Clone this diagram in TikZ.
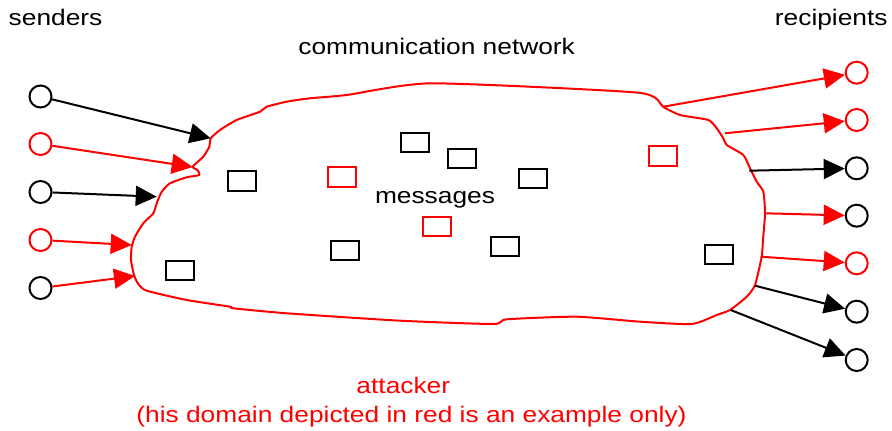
\documentclass[tikz,border=0pt]{standalone}
\usepackage{fontspec}
\setmainfont[FakeStretch=1.17]{Liberation Sans}
\usetikzlibrary{arrows.meta}
\begin{document}
\begin{tikzpicture}[x=0.5pt,y=-0.5pt,
  lbl/.style={inner sep=0pt,font=\fontsize{11.25}{13}\selectfont},
  party/.style={circle,draw,line width=1pt,minimum size=11pt,inner sep=0pt},
  msg/.style={rectangle,draw,line width=1pt,minimum width=14pt,minimum height=9.75pt,inner sep=0pt},
  arr/.style={line width=1pt,-{Triangle[length=10.5pt,width=10pt]}},
  cloudline/.style={draw=red,line width=1pt,line join=round}]
\useasboundingbox (0,0) rectangle (892,431);
% texts
\node[lbl,anchor=base west] (tsend) at (8.3,26) {senders};
\node[lbl,anchor=base east] (trec) at (888,26) {recipients};
\node[lbl,anchor=base] (tnet) at (436.7,55) {communication network};
\node[lbl,anchor=base] (tmsg) at (435,203.3) {messages};
\node[lbl,anchor=base,text=red] (tatt) at (403.3,393.3) {attacker};
\node[lbl,anchor=base,text=red] (tdom) at (411.5,423) {(his domain depicted in red is an example only)};
% cloud
\draw[cloudline] plot[smooth cycle,tension=0.35] coordinates {
(210.7,138.3) (220,130) (236.7,120) (260,111.7) (266.7,106.7) (286.7,101.7) (310,98.3) (346.7,95)
(431.7,83.3) (638.3,92.7) (663.3,107) (680,115) (708.3,120) (716.7,128.3) (723.3,138.3) (726.7,145)
(743.3,155) (750,168.3) (756.7,181.7) (763.3,191.7) (765,213.3) (763,240) (761.7,256.7) (755,285)
(746.7,296.7) (730,310) (716.7,315) (691.7,324) (640,321.7) (576.7,316.7) (506.7,319.3) (493.3,324)
(400,320.7) (286.7,313.3) (233.3,308.3) (230,306.7) (186.7,300) (146.7,290.7) (138.3,284) (134,275)
(131,260) (131.7,246.7) (135,236.7) (143.3,223.3) (153.3,213.3) (156.7,203.3) (161.7,191.7) (170,183.3)
(186.7,177.3) (199.3,175) (197.3,170) (192.7,166.7) (203.3,156.7) (209.3,146.7)};
% messages
\node[msg] (m1) at (242,181) {};
\node[msg,draw=red] (m2) at (342.3,177) {};
\node[msg] (m3) at (414.7,142.5) {};
\node[msg] (m4) at (462,158.5) {};
\node[msg] (m5) at (532.7,178.5) {};
\node[msg,draw=red] (m6) at (436.7,226.5) {};
\node[msg] (m7) at (345,250.5) {};
\node[msg] (m8) at (179.7,270.5) {};
\node[msg] (m9) at (504.7,246.5) {};
\node[msg,draw=red] (m10) at (663.3,155.8) {};
\node[msg] (m11) at (719.3,254.5) {};
% senders
\node[party] (s1) at (40.5,96.5) {};
\node[party,draw=red] (s2) at (40.5,144) {};
\node[party] (s3) at (40.5,192) {};
\node[party,draw=red] (s4) at (40.5,240) {};
\node[party] (s5) at (40.5,288) {};
% recipients
\node[party,draw=red] (r1) at (856.7,72.7) {};
\node[party,draw=red] (r2) at (856.7,120) {};
\node[party] (r3) at (856.7,168.3) {};
\node[party] (r4) at (856.7,215.7) {};
\node[party,draw=red] (r5) at (856.7,263.3) {};
\node[party] (r6) at (856.7,311.7) {};
\node[party] (r7) at (856.7,360) {};
% connector ends on the cloud
\coordinate (e1) at (210.7,138.3);
\coordinate (e2) at (192.7,167);
\coordinate (e3) at (156.7,196.7);
\coordinate (e4) at (131.7,245);
\coordinate (e5) at (135,276);
\coordinate (b1) at (663.3,106.7);
\coordinate (b2) at (725,133.3);
\coordinate (b3) at (749.3,170.7);
\coordinate (b4) at (765,213.3);
\coordinate (b5) at (760.7,256.7);
\coordinate (b6) at (755,285.7);
\coordinate (b7) at (730.7,310);
% arrows
\draw[arr] (s1) -- (e1);
\draw[arr,red] (s2) -- (e2);
\draw[arr] (s3) -- (e3);
\draw[arr,red] (s4) -- (e4);
\draw[arr,red] (s5) -- (e5);
\draw[arr,red] (b1) -- (r1);
\draw[arr,red] (b2) -- (r2);
\draw[arr] (b3) -- (r3);
\draw[arr,red] (b4) -- (r4);
\draw[arr,red] (b5) -- (r5);
\draw[arr] (b6) -- (r6);
\draw[arr] (b7) -- (r7);
\end{tikzpicture}
\end{document}
